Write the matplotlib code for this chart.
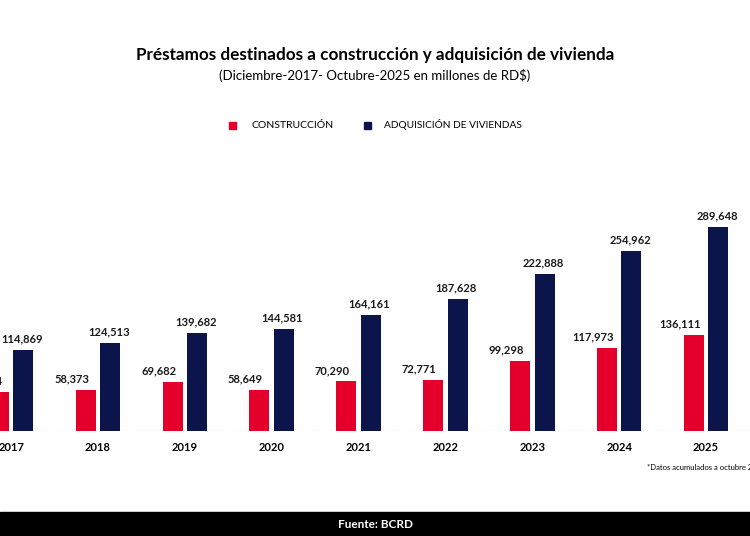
import matplotlib
matplotlib.use("Agg")
import matplotlib.pyplot as plt
from matplotlib.patches import Rectangle
import numpy as np

years = ['2017', '2018', '2019', '2020', '2021', '2022', '2023', '2024', '2025']
construccion = [55604, 58373, 69682, 58649, 70290, 72771, 99298, 117973, 136111]
adquisicion = [114869, 124513, 139682, 144581, 164161, 187628, 222888, 254962, 289648]

RED = '#E4002B'
NAVY = '#0C154B'

plt.rcParams['font.family'] = ['Lato', 'DejaVu Sans']

fig = plt.figure(figsize=(7.5, 5.36), dpi=100)
ax = fig.add_axes([0, 0.196, 1, 0.431])

x = np.arange(len(years))
w = 0.23
off = 0.141
b1 = ax.bar(x - off, construccion, w, color=RED, zorder=3)
b2 = ax.bar(x + off, adquisicion, w, color=NAVY, zorder=3)

# red labels sit a bit to the left of their bars, as in the original
for bars, dx in ((b1, -10), (b2, -1)):
    for b in bars:
        v = b.get_height()
        ax.annotate(f'{v:,.0f}', (b.get_x() + b.get_width() / 2, v),
                    xytext=(dx, 4), textcoords='offset points',
                    ha='center', va='bottom', fontsize=8, fontweight='bold',
                    color='#1a1a1a', annotation_clip=False)

ax.axhline(0, color='#cccccc', linestyle=':', linewidth=0.9, zorder=2)
ax.set_xlim(-0.127, 8.506)
ax.set_ylim(0, 328000)
ax.set_xticks(x, years)
ax.tick_params(axis='x', length=0, pad=8, labelsize=8)
for t in ax.get_xticklabels():
    t.set_fontweight('bold')
ax.set_yticks([])
for s in ax.spines.values():
    s.set_visible(False)

# titles
fig.text(0.5, 1 - 55 / 536, 'Préstamos destinados a construcción y adquisición de vivienda',
         ha='center', va='center', fontsize=12.3, fontweight='bold')
fig.text(0.5, 1 - 76 / 536, '(Diciembre-2017- Octubre-2025 en millones de RD$)',
         ha='center', va='center', fontsize=9.5)

# legend
ly = 1 - 125 / 536
fig.patches.append(Rectangle((229 / 750, ly - 3.5 / 536), 7 / 750, 7 / 536,
                             transform=fig.transFigure, color=RED))
fig.text(251 / 750, ly, 'CONSTRUCCIÓN', ha='left', va='center', fontsize=7.5)
fig.patches.append(Rectangle((364 / 750, ly - 3.5 / 536), 7 / 750, 7 / 536,
                             transform=fig.transFigure, color=NAVY))
fig.text(384 / 750, ly, 'ADQUISICIÓN DE VIVIENDAS', ha='left', va='center', fontsize=7.3)

# footnote
fig.text(647 / 750, 1 - 467 / 536, '*Datos acumulados a octubre 2025',
         ha='left', va='center', fontsize=5.5)

# bottom band
fig.patches.append(Rectangle((0, 0), 1, 24 / 536, transform=fig.transFigure, color='black'))
fig.text(0.5, 12 / 536, 'Fuente: BCRD', ha='center', va='center', fontsize=8.5,
         fontweight='bold', color='white')

fig.savefig('out.png', dpi=100)
